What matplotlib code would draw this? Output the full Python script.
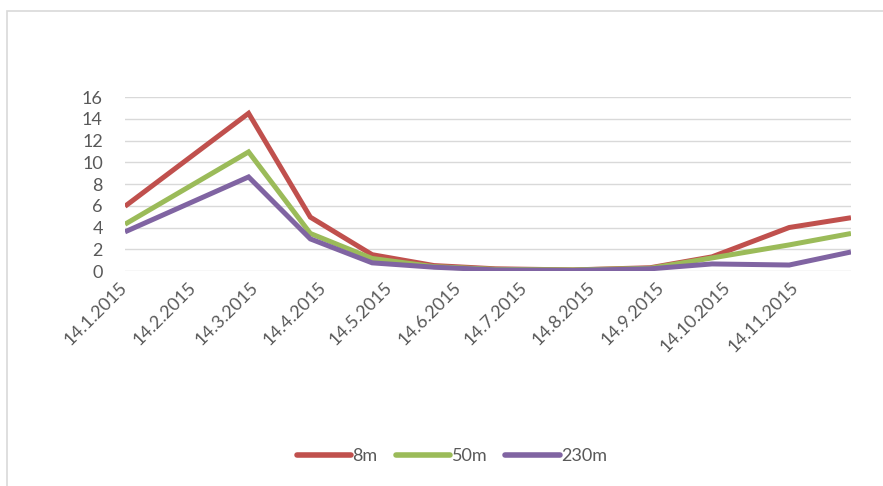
import matplotlib
matplotlib.use("Agg")
import matplotlib.pyplot as plt
import matplotlib.dates as mdates
from matplotlib.patches import Rectangle
import pandas as pd

# Sampling dates and measured values at three depths
sample_dates = ["2015-01-14", "2015-03-11", "2015-04-08", "2015-05-06", "2015-06-03",
                "2015-07-01", "2015-08-05", "2015-09-09", "2015-10-07", "2015-11-11",
                "2015-12-09"]
depth_8m = [5.95, 14.5, 4.95, 1.5, 0.5, 0.2, 0.1, 0.3, 1.3, 4.0, 4.9]
depth_50m = [4.3, 10.95, 3.45, 1.15, 0.4, 0.15, 0.1, 0.25, 1.2, 2.4, 3.45]
depth_230m = [3.6, 8.65, 2.95, 0.75, 0.35, 0.1, 0.05, 0.2, 0.65, 0.55, 1.75]

series_names = ["8m", "50m", "230m"]
series_colors = ["#C0504D", "#9BBB59", "#8064A2"]

# Axis labels: the 14th of each month, January to November
label_dates = pd.date_range("2015-01-01", periods=11, freq="MS") + pd.Timedelta(days=13)
tick_labels = [f"{d.day}.{d.month}.{d.year}" for d in label_dates]
y_ticks = [0, 2, 4, 6, 8, 10, 12, 14, 16]

plt.rcParams["font.family"] = ["Lato", "DejaVu Sans"]
text_color = "#595959"

W, H = 883, 486
fig = plt.figure(figsize=(W / 100, H / 100), dpi=100)
fig.patch.set_facecolor("white")

# Chart border
fig.patches.append(Rectangle((7 / W, -0.1), 2.0, (1 - 11 / H) + 0.1,
                             transform=fig.transFigure, fill=False,
                             edgecolor="#D9D9D9", linewidth=1.2))

ax = fig.add_axes([125 / W, (H - 271) / H, 726 / W, 174 / H])

x = mdates.date2num(pd.to_datetime(sample_dates))
for vals, name, col in zip([depth_8m, depth_50m, depth_230m], series_names, series_colors):
    ax.plot(x, vals, color=col, linewidth=3.6, label=name,
            solid_joinstyle="miter", solid_capstyle="butt")

ax.set_xlim(x[0], x[-1])
ax.set_ylim(0, 16)
ax.set_yticks(y_ticks)
ax.set_yticklabels([str(v) for v in y_ticks])
ax.set_xticks(mdates.date2num(label_dates))
ax.set_xticklabels(tick_labels, rotation=45, ha="right", va="center",
                   rotation_mode="anchor")

ax.grid(axis="y", color="#D9D9D9", linewidth=1.0)
ax.set_axisbelow(True)
for s in ax.spines.values():
    s.set_visible(False)
ax.tick_params(axis="both", length=0, labelsize=13, colors=text_color)
ax.tick_params(axis="y", pad=16)
ax.tick_params(axis="x", pad=10)

leg = fig.legend(loc="center", bbox_to_anchor=(452 / W, 1 - 456 / H), ncol=3,
                 frameon=False, fontsize=13, handlelength=3.0,
                 handletextpad=0.1, columnspacing=1.0)
for t in leg.get_texts():
    t.set_color(text_color)
for h in leg.legend_handles:
    h.set_solid_capstyle("round")
    h.set_linewidth(4.0)

fig.savefig("out.png", dpi=100, facecolor="white")
